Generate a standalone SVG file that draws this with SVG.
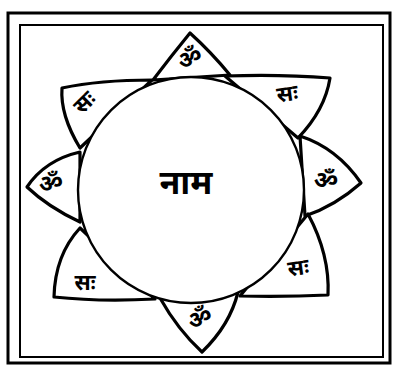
<svg xmlns="http://www.w3.org/2000/svg" width="395" height="368" viewBox="0 0 395 368">
<style>
.petal{fill:#fff;stroke:#000;stroke-width:3.2;stroke-linejoin:round;stroke-linecap:round}
.ring{fill:#fff;stroke:#000;stroke-width:2.4}
.t{font-family:"Noto Sans","Noto Sans Devanagari","Lohit Devanagari",sans-serif;font-weight:bold;fill:#000;text-anchor:middle}
</style>
<rect width="395" height="368" fill="#fff"/>
<g id="border">
<rect x="8" y="13" width="382" height="350" fill="none" stroke="#000" stroke-width="3"/>
<rect x="20" y="25" width="363" height="332" fill="none" stroke="#000" stroke-width="2"/>
</g>
<g id="connectors">
<path class="petal" d="M153,80 Q172,55 190,33 Q211,52 230,75 Z"/>
<path class="petal" d="M225,76 Q280,74 330,78 Q325,110 298,138 Z"/>
<path class="petal" d="M300,136 Q337,148 361,183 Q335,206 305,216 Z"/>
<path class="petal" d="M308,214 Q330,255 328,295 Q285,297 240,296 Z"/>
<path class="petal" d="M160,298 Q178,330 202,352 Q230,325 238,292 Z"/>
<path class="petal" d="M80,228 Q55,255 54,297 Q100,302 155,299 Z"/>
<path class="petal" d="M80,152 Q45,160 27,187 Q48,207 80,222 Z"/>
<path class="petal" d="M80,148 Q60,115 62,88 Q100,80 152,80 Z"/>
</g>
<g id="center">
<circle class="ring" cx="191" cy="190" r="113"/>
<text class="t" x="186" y="194" font-size="34">नाम</text>
</g>
<g id="p1"><text class="t" x="190" y="66" font-size="24" transform="rotate(-25 190 58)">ॐ</text></g>
<g id="p2"><text class="t" x="287" y="101" font-size="22" transform="rotate(-8 287 92)">सः</text></g>
<g id="p3"><text class="t" x="326" y="188" font-size="24">ॐ</text></g>
<g id="p4"><text class="t" x="298" y="275" font-size="22" transform="rotate(-8 298 266)">सः</text></g>
<g id="p5"><text class="t" x="200" y="326" font-size="24" transform="rotate(-25 200 318)">ॐ</text></g>
<g id="p6"><text class="t" x="85" y="290" font-size="22">सः</text></g>
<g id="p7"><text class="t" x="51" y="191" font-size="24" transform="rotate(-10 51 183)">ॐ</text></g>
<g id="p8"><text class="t" x="84" y="110" font-size="22" transform="rotate(-45 84 102)">सः</text></g>
</svg>
